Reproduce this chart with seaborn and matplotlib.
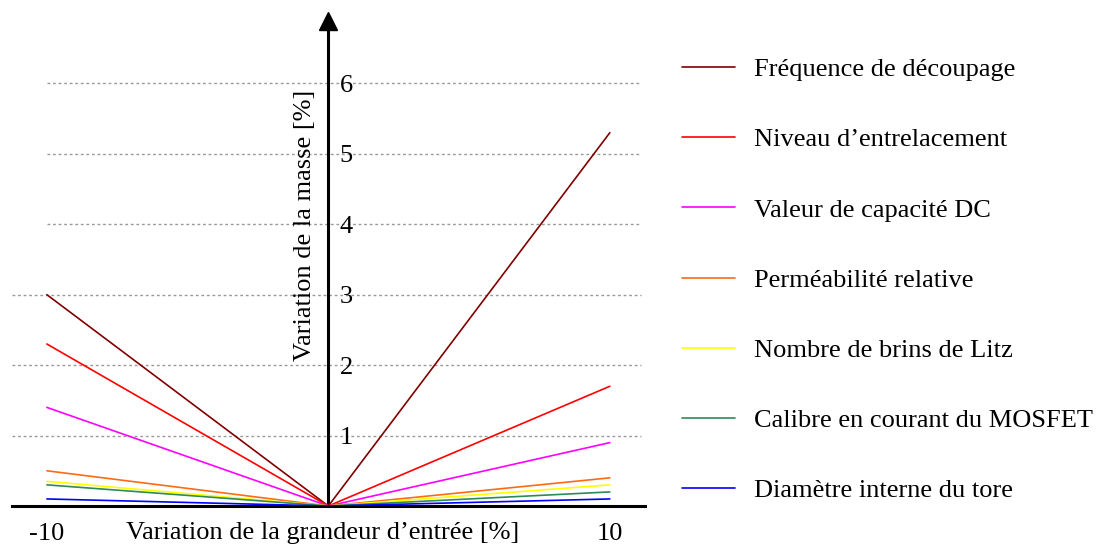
import matplotlib
matplotlib.use('Agg')
import matplotlib.pyplot as plt
import numpy as np
import pandas as pd
import seaborn as sns

# data
params = ['Fréquence de découpage', 'Niveau d’entrelacement', 'Valeur de capacité DC',
          'Perméabilité relative', 'Nombre de brins de Litz', 'Calibre en courant du MOSFET',
          'Diamètre interne du tore']
x_var = [-10, 0, 10]
at_minus10 = [3.0, 2.3, 1.4, 0.5, 0.35, 0.3, 0.1]
at_zero = [0, 0, 0, 0, 0, 0, 0]
at_plus10 = [5.3, 1.7, 0.9, 0.4, 0.3, 0.2, 0.1]
colors = ['#800000', '#ff0000', '#ff00ff', '#ff6a13', '#ffff00', '#2e8b57', '#0000ff']
y_ticks = [1, 2, 3, 4, 5, 6]
x_ticks = [-10, 10]

rows = []
for p, a, b, c in zip(params, at_minus10, at_zero, at_plus10):
    for xv, yv in zip(x_var, [a, b, c]):
        rows.append({'x': xv, 'y': yv, 'param': p})
df = pd.DataFrame(rows)

sns.set_theme(style='white')
plt.rcParams['font.family'] = ['Liberation Serif', 'DejaVu Serif']
plt.rcParams['text.color'] = 'black'
plt.rcParams['axes.labelcolor'] = 'black'
plt.rcParams['xtick.color'] = 'black'
plt.rcParams['ytick.color'] = 'black'
fs = 19

fig = plt.figure(figsize=(11.02, 5.5), dpi=100)
ax = fig.add_axes([12 / 1102, 1 - 506 / 550, 633 / 1102, 493 / 550])

# dotted grid
for yv in y_ticks:
    x0 = -11.25 if yv <= 3 else -10
    ax.hlines(yv, x0, 11.1, colors='#999999', linestyles=(0, (2, 2)), linewidth=1, zorder=0)

sns.lineplot(data=df, x='x', y='y', hue='param', palette=colors, hue_order=params,
             linewidth=1.2, ax=ax, zorder=3)

ax.set_xlim(-11.24, 11.25)
ax.set_ylim(0, 7)

for s in ['top', 'left']:
    ax.spines[s].set_visible(False)
ax.spines['right'].set_position(('data', 0))
ax.spines['bottom'].set_position(('data', 0))
for s in ['right', 'bottom']:
    ax.spines[s].set_color('black')
    ax.spines[s].set_linewidth(2.2)
ax.spines['right'].set_bounds(0, 6.85)

ax.plot([0], [6.88], marker='^', color='black', markersize=13, clip_on=False, zorder=5)

ax.yaxis.set_ticks_position('right')
ax.set_yticks(y_ticks)
ax.set_yticklabels([str(v) for v in y_ticks], fontsize=fs)
ax.tick_params(axis='y', length=0, pad=8)

ax.set_xticks(x_ticks)
ax.set_xticklabels([str(v) for v in x_ticks], fontsize=fs)
ax.tick_params(axis='x', direction='inout', length=13, width=2.2, color='black', pad=6)

ax.set_xlabel('Variation de la grandeur d’entrée [%]', fontsize=fs, va='center')
ax.xaxis.set_label_coords(0.49, -0.055)
ax.set_ylabel('Variation de la masse [%]', fontsize=fs, va='center')
ax.yaxis.set_label_coords(0.463, 0.57)

sns.move_legend(ax, 'upper left', bbox_to_anchor=((658 - 12) / 633, 1 - 21 / 493),
                frameon=False, title=None, fontsize=fs, labelspacing=1.77,
                handlelength=2.0, handletextpad=0.72)

fig.savefig('out.png', dpi=100, facecolor='white')
